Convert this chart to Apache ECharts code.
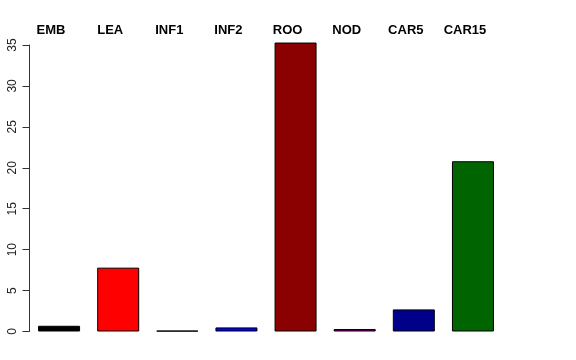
<!DOCTYPE html>
<html>
<head>
<meta charset="utf-8">
<script src="https://cdn.jsdelivr.net/npm/echarts@6/dist/echarts.min.js"></script>
<style>html,body{margin:0;padding:0;background:#fff}#c{width:576px;height:360px}</style>
</head>
<body>
<div id="c"></div>
<script>
var categories = ["EMB", "LEA", "INF1", "INF2", "ROO", "NOD", "CAR5", "CAR15"];
var values = [0.7, 7.8, 0.1, 0.5, 35.3, 0.3, 2.7, 20.8];
var colors = ["#000000", "#FF0000", "#006400", "#0000FF", "#8B0000", "#800080", "#00008B", "#006400"];
var yTicks = [0, 5, 10, 15, 20, 25, 30, 35];

var chart = echarts.init(document.getElementById('c'), null, {renderer: 'canvas'});
chart.setOption({
  animation: false,
  backgroundColor: '#ffffff',
  grid: {left: 29.5, right: 73.5, top: 45, bottom: 28.5},
  xAxis: {
    type: 'category',
    position: 'top',
    data: categories,
    axisLine: {show: false},
    axisTick: {show: false},
    axisLabel: {
      fontFamily: 'Liberation Sans',
      fontWeight: 'bold',
      fontSize: 13,
      color: '#000',
      margin: 8,
      lineHeight: 13,
      padding: [0, 16, 0, 0]
    }
  },
  yAxis: {
    type: 'value',
    min: yTicks[0],
    max: yTicks[yTicks.length - 1],
    interval: 5,
    splitLine: {show: false},
    axisLine: {show: true, lineStyle: {color: '#333', width: 1}},
    axisTick: {show: true, length: 7, lineStyle: {color: '#333'}},
    axisLabel: {
      rotate: 90,
      fontFamily: 'Liberation Sans',
      fontSize: 12,
      color: '#222',
      margin: 11
    }
  },
  series: [{
    type: 'bar',
    clip: false,
    barWidth: 42,
    data: values.map(function (v, i) {
      return {value: v, itemStyle: {color: colors[i], borderColor: '#000', borderWidth: 1}};
    })
  }]
});
</script>
</body>
</html>
